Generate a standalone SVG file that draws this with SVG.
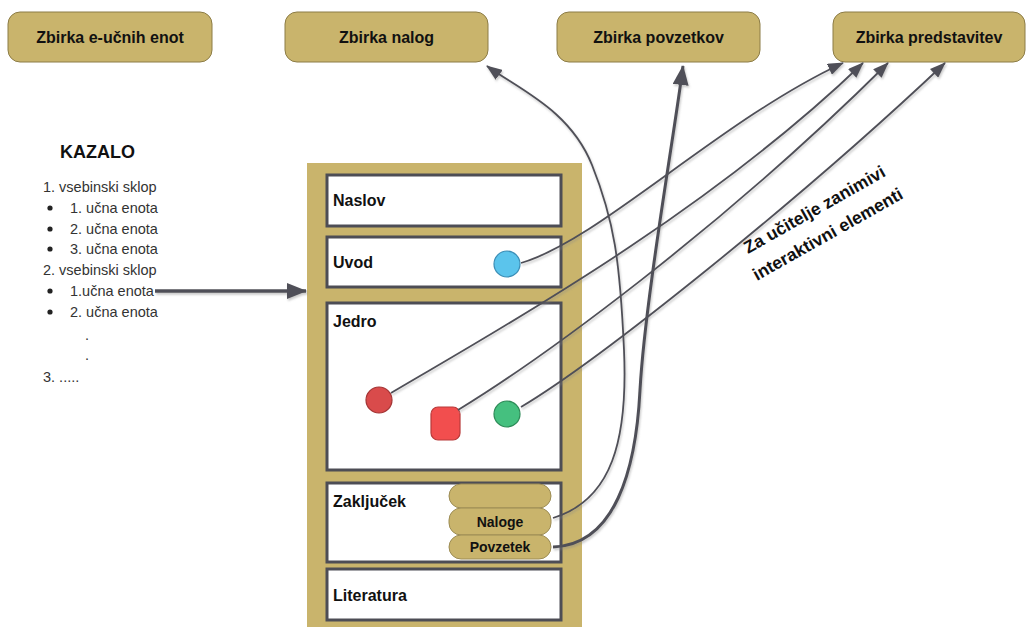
<svg xmlns="http://www.w3.org/2000/svg" width="1031" height="627" viewBox="0 0 1031 627">
  <style>
    .coll { fill: #C9B46C; stroke: #8C7C46; stroke-width: 1; }
    .colltxt { font-family: "Liberation Sans", Arial, sans-serif; font-weight: bold; font-size: 16px; fill: #111; text-anchor: middle; }
    .sect { fill: #ffffff; stroke: #4D4D55; stroke-width: 3; }
    .secttxt { font-family: "Liberation Sans", Arial, sans-serif; font-weight: bold; font-size: 16px; fill: #111; }
    .pill { fill: #C9B46C; stroke: #9C8C55; stroke-width: 1; }
    .pilltxt { font-family: "Liberation Sans", Arial, sans-serif; font-weight: bold; font-size: 14px; fill: #111; text-anchor: middle; }
    .list { font-family: "Liberation Sans", Arial, sans-serif; font-size: 14.5px; fill: #333; }
    .bullet { fill: #222; }
    .link { fill: none; stroke: #505058; stroke-width: 1.8; marker-end: url(#head); }
    .thick { fill: none; stroke: #505058; stroke-width: 3; marker-end: url(#headBig); }
  </style>
  <defs>
    <marker id="head" markerUnits="userSpaceOnUse" markerWidth="16" markerHeight="12" refX="15" refY="6" orient="auto">
      <path d="M0,0 L16,6 L0,12 z" fill="#505058"/>
    </marker>
    <marker id="headBig" markerUnits="userSpaceOnUse" markerWidth="20" markerHeight="16" refX="19" refY="8" orient="auto">
      <path d="M0,0 L20,8 L0,16 z" fill="#505058"/>
    </marker>
    <filter id="shadow" x="-10%" y="-10%" width="120%" height="120%">
      <feDropShadow dx="1" dy="2" stdDeviation="1" flood-color="#888" flood-opacity="0.45"/>
    </filter>
  </defs>

  <rect width="1031" height="627" fill="#ffffff"/>

  <!-- collections along the top -->
  <g id="zbirka-eucnih-enot">
    <rect class="coll" x="8" y="12" width="204" height="50" rx="12"/>
    <text class="colltxt" x="110" y="43">Zbirka e-učnih enot</text>
  </g>
  <g id="zbirka-nalog">
    <rect class="coll" x="285" y="12" width="203" height="50" rx="12"/>
    <text class="colltxt" x="386.5" y="43">Zbirka nalog</text>
  </g>
  <g id="zbirka-povzetkov">
    <rect class="coll" x="557" y="12" width="203" height="50" rx="12"/>
    <text class="colltxt" x="658.5" y="43">Zbirka povzetkov</text>
  </g>
  <g id="zbirka-predstavitev">
    <rect class="coll" x="833" y="12" width="192" height="50" rx="12"/>
    <text class="colltxt" x="929" y="43">Zbirka predstavitev</text>
  </g>

  <!-- table of contents -->
  <g id="kazalo">
    <text x="60" y="158" font-family="Liberation Sans, Arial, sans-serif" font-weight="bold" font-size="18" fill="#111">KAZALO</text>
    <text class="list" x="43" y="192">1. vsebinski sklop</text>
    <circle class="bullet" cx="50" cy="208" r="2.6"/>
    <text class="list" x="70" y="213">1. učna enota</text>
    <circle class="bullet" cx="50" cy="229" r="2.6"/>
    <text class="list" x="70" y="234">2. učna enota</text>
    <circle class="bullet" cx="50" cy="249" r="2.6"/>
    <text class="list" x="70" y="254">3. učna enota</text>
    <text class="list" x="43" y="275">2. vsebinski sklop</text>
    <circle class="bullet" cx="50" cy="291" r="2.6"/>
    <text class="list" x="70" y="296">1.učna enota</text>
    <circle class="bullet" cx="50" cy="312" r="2.6"/>
    <text class="list" x="70" y="317">2. učna enota</text>
    <text class="list" x="85" y="340">.</text>
    <text class="list" x="85" y="360">.</text>
    <text class="list" x="43" y="382">3. .....</text>
  </g>

  <!-- learning unit page -->
  <g id="ucna-enota">
    <rect x="307" y="163" width="275" height="470" fill="#C9B46C"/>
  </g>
  <g id="naslov">
    <rect class="sect" x="327" y="175" width="234" height="51"/>
    <text class="secttxt" x="333" y="206">Naslov</text>
  </g>
  <g id="uvod">
    <rect class="sect" x="327" y="237" width="234" height="50"/>
    <text class="secttxt" x="333" y="268">Uvod</text>
    <circle cx="507" cy="264" r="13" fill="#5BC4EC" stroke="#3B8DB5" stroke-width="1.2"/>
  </g>
  <g id="jedro">
    <rect class="sect" x="327" y="303" width="234" height="167"/>
    <text class="secttxt" x="333" y="327">Jedro</text>
    <circle cx="379" cy="400" r="13" fill="#D94B4B" stroke="#A33434" stroke-width="1.2"/>
    <rect x="431" y="407" width="29" height="33" rx="7" fill="#F24E4E" stroke="#B83A3A" stroke-width="1.2"/>
    <circle cx="507" cy="414" r="13" fill="#45C07F" stroke="#2D8A57" stroke-width="1.2"/>
  </g>
  <g id="zakljucek">
    <rect class="sect" x="327" y="483" width="234" height="79"/>
    <text class="secttxt" x="333" y="507">Zaključek</text>
    <rect class="pill" x="449" y="484" width="102" height="24" rx="12"/>
    <rect class="pill" x="449" y="508" width="102" height="27" rx="12"/>
    <text class="pilltxt" x="500" y="527">Naloge</text>
    <rect class="pill" x="449" y="535" width="102" height="24" rx="12"/>
    <text class="pilltxt" x="500" y="552">Povzetek</text>
  </g>
  <g id="literatura">
    <rect class="sect" x="327" y="569" width="234" height="51"/>
    <text class="secttxt" x="333" y="601">Literatura</text>
  </g>

  <!-- connectors -->
  <g id="connectors" filter="url(#shadow)">
    <path d="M155,291 L306,291" fill="none" stroke="#505058" stroke-width="3.5" marker-end="url(#headBig)"/>
    <path class="link" d="M553,518 C612,500 628,440 624,350 S614,220 592,165 S520,90 487,66"/>
    <path class="thick" d="M553,547 C615,545 636,470 640,390 C645,300 675,130 683,66"/>
    <path class="link" d="M521,263 C600,240 720,120 843,63"/>
    <path class="link" d="M391,393 C480,340 700,220 863,63"/>
    <path class="link" d="M458,410 C540,360 720,230 888,63"/>
    <path class="link" d="M521,407 C600,360 800,200 945,63"/>
  </g>

  <!-- annotation -->
  <g id="opomba" font-family="Liberation Sans, Arial, sans-serif" font-weight="bold" font-size="17.5" fill="#111">
    <text transform="translate(748,254) rotate(-29.5)">Za učitelje zanimivi</text>
    <text transform="translate(757,281) rotate(-29.5)">interaktivni elementi</text>
  </g>
</svg>
